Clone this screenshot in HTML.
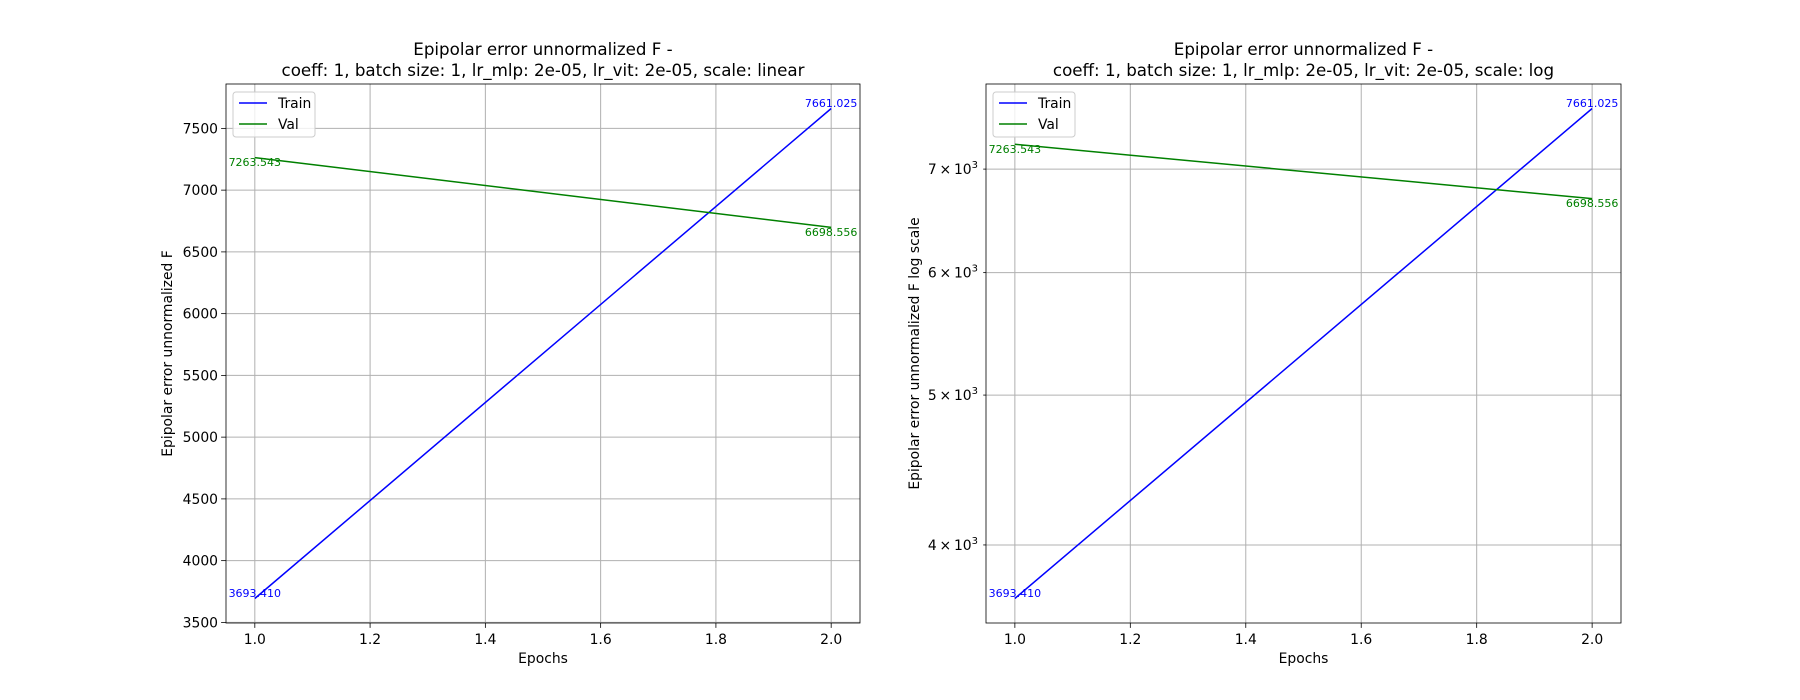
<!DOCTYPE html>
<html><head><meta charset="utf-8"><style>
html,body{margin:0;padding:0;background:#fff;}
svg{display:block;font-family:"DejaVu Sans","Liberation Sans",sans-serif;}
</style></head><body>
<svg id="fig" width="1800" height="700" xmlns="http://www.w3.org/2000/svg"></svg>
<script>
const epochs=[1,2];
const trainVals=[3693.410,7661.025];
const valVals=[7263.543,6698.556];
const trainLabels=["3693.410","7661.025"];
const valLabels=["7263.543","6698.556"];
const xTicks=[1.0,1.2,1.4,1.6,1.8,2.0];
const xTickLabels=["1.0","1.2","1.4","1.6","1.8","2.0"];
const linTicks=[3500,4000,4500,5000,5500,6000,6500,7000,7500];
const logTicks=[4000,5000,6000,7000];
const logTickMant=["4","5","6","7"];

const NS="http://www.w3.org/2000/svg";
const svg=document.getElementById('fig');
function mk(tag,attrs,parent){const e=document.createElementNS(NS,tag);for(const k in attrs)e.setAttribute(k,attrs[k]);(parent||svg).appendChild(e);return e;}

function drawPanel(opt){
  const L=opt.left,R=opt.right,T=84,B=623;
  const g=mk('g',{});
  
  
  const xmin=0.95,xmax=2.05;
  const X=v=>L+(v-xmin)/(xmax-xmin)*(R-L);
  const all=trainVals.concat(valVals);
  let lo=Math.min(...all),hi=Math.max(...all);
  let Y;
  if(opt.log){lo=Math.log10(lo);hi=Math.log10(hi);const m=(hi-lo)*0.05;const a=lo-m,b=hi+m;Y=v=>B-(Math.log10(v)-a)/(b-a)*(B-T);}
  else{const m=(hi-lo)*0.05;const a=lo-m,b=hi+m;Y=v=>B-(v-a)/(b-a)*(B-T);}
  xTicks.forEach((t,i)=>{
    const l=mk('line',{x1:X(t),x2:X(t),y1:T,y2:B,stroke:'#b0b0b0','stroke-width':1},g);
    
    
    mk('line',{x1:X(t),x2:X(t),y1:B,y2:B+4.9,stroke:'#000','stroke-width':0.8},g);
    const tx=mk('text',{x:X(t),y:B+21,'text-anchor':'middle','font-size':13.9,fill:'#000'},g);
    tx.textContent=xTickLabels[i];
    
    
  });
  const yt=opt.log?logTicks:linTicks;
  yt.forEach((t,i)=>{
    const y=Y(t);
    const l=mk('line',{x1:L,x2:R,y1:y,y2:y,stroke:'#b0b0b0','stroke-width':1},g);
    
    
    mk('line',{x1:L-(opt.log?2.8:4.9),x2:L,y1:y,y2:y,stroke:'#000','stroke-width':0.8},g);
    const tx=mk('text',{x:L-8,y:y+5,'text-anchor':'end','font-size':13.9,fill:'#000'},g);
    
    
    if(opt.log){
      tx.textContent=logTickMant[i]+'\u2009\u00d7\u200910';
      const s=mk('tspan',{dy:-6,'font-size':10},tx);s.textContent='3';
    } else tx.textContent=String(t);
  });
  const tp=epochs.map((e,i)=>X(e)+','+Y(trainVals[i])).join(' ');
  const tl=mk('polyline',{points:tp,fill:'none',stroke:'#0000ff','stroke-width':1.5},g);
  
  
  const vp=epochs.map((e,i)=>X(e)+','+Y(valVals[i])).join(' ');
  const vl=mk('polyline',{points:vp,fill:'none',stroke:'#008000','stroke-width':1.5},g);
  
  
  epochs.forEach((e,i)=>{
    const a=mk('text',{x:X(e),y:Y(trainVals[i])-1.5,'text-anchor':'middle','font-size':11,fill:'#0000ff'},g);
    a.textContent=trainLabels[i];
    
    
    const b=mk('text',{x:X(e),y:Y(valVals[i])+8.5,'text-anchor':'middle','font-size':11,fill:'#008000'},g);
    b.textContent=valLabels[i];
    
    
  });
  mk('rect',{x:L,y:T,width:R-L,height:B-T,fill:'none',stroke:'#000','stroke-width':0.8},g);
  const cx=(L+R)/2;
  const t1=mk('text',{x:cx,y:55,'text-anchor':'middle','font-size':16.7,fill:'#000'},g);
  t1.textContent='Epipolar error unnormalized F -';
  
  
  const t2=mk('text',{x:cx,y:76,'text-anchor':'middle','font-size':16.7,fill:'#000'},g);
  t2.textContent='coeff: 1, batch size: 1, lr_mlp: 2e-05, lr_vit: 2e-05, scale: '+(opt.log?'log':'linear');
  
  
  const xl=mk('text',{x:cx,y:663,'text-anchor':'middle','font-size':13.9,fill:'#000'},g);
  xl.textContent='Epochs';
  
  
  const yc=(T+B)/2;
  const yl=mk('text',{x:opt.ylx,y:yc,'text-anchor':'middle','font-size':13.9,fill:'#000',transform:'rotate(-90 '+opt.ylx+' '+yc+')'},g);
  yl.textContent=opt.log?'Epipolar error unnormalized F log scale':'Epipolar error unnormalized F';
  
  
  const lg=mk('g',{},g);
  
  
  mk('rect',{x:L+7,y:92,width:82,height:45,rx:3,fill:'#fff','fill-opacity':0.8,stroke:'#cccccc','stroke-width':1},lg);
  [['Train','#0000ff',103],['Val','#008000',124]].forEach(([n,c,y])=>{
    mk('line',{x1:L+13,x2:L+41,y1:y,y2:y,stroke:c,'stroke-width':1.5},lg);
    const t=mk('text',{x:L+52,y:y+5,'font-size':13.9,fill:'#000'},lg);
    t.textContent=n;
    
    
  });
}
drawPanel({name:'linear-panel',left:226,right:860,log:false,ylx:172});
drawPanel({name:'log-panel',left:986,right:1621,log:true,ylx:919});
</script>
</body></html>
